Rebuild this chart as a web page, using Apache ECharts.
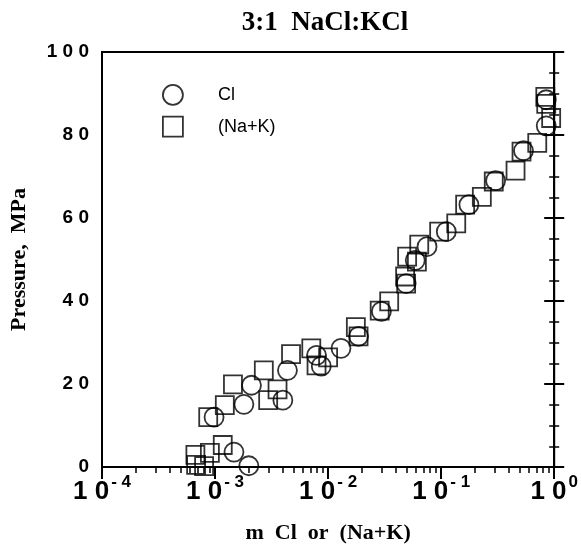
<!DOCTYPE html>
<html>
<head>
<meta charset="utf-8">
<script src="https://cdn.jsdelivr.net/npm/echarts@6/dist/echarts.min.js"></script>
<style>
html,body{margin:0;padding:0;background:#fff;}
#c{width:581px;height:549px;}
</style>
</head>
<body>
<div id="c"></div>
<script>
// ---- data ----
var clX = [1.47e-3, 1.99e-3, 9.8e-4, 1.8e-3, 2.1e-3, 3.98e-3, 4.37e-3, 7.9e-3, 8.7e-3, 1.3e-2, 1.86e-2, 2.96e-2, 4.9e-2, 5.9e-2, 7.5e-2, 0.111, 0.176, 0.303, 0.535, 0.85, 0.85];
var clP = [3.6, 0.3, 12.0, 15.1, 19.7, 16.1, 23.3, 26.9, 24.3, 28.6, 31.5, 37.5, 44.2, 49.8, 53.1, 56.7, 63.2, 69.0, 76.2, 82.2, 88.5];

var nakX = [6.8e-4, 8.0e-4, 6.7e-4, 9.0e-4, 1.17e-3, 8.7e-4, 1.22e-3, 1.44e-3, 2.7e-3, 2.95e-3, 3.57e-3, 4.7e-3, 7.1e-3, 7.9e-3, 1.0e-2, 1.76e-2, 1.86e-2, 2.86e-2, 3.47e-2, 4.8e-2, 4.9e-2, 5.0e-2, 6.1e-2, 6.4e-2, 9.6e-2, 0.136, 0.163, 0.229, 0.292, 0.455, 0.514, 0.708, 0.94, 0.834, 0.85];
var nakP = [0.5, 0.2, 2.9, 3.4, 5.3, 12.0, 14.9, 19.9, 23.3, 16.1, 18.7, 27.2, 28.6, 24.5, 26.4, 33.7, 31.5, 37.7, 39.9, 45.9, 44.2, 50.7, 49.5, 53.6, 56.7, 58.7, 63.2, 65.1, 68.8, 71.4, 76.0, 78.1, 84.1, 89.2, 87.5];

var yTickLabels = {0: '0', 20: '2 0', 40: '4 0', 60: '6 0', 80: '8 0', 100: '1 0 0'};
var seriesNames = ['Cl', '(Na+K)'];
var titleText = '3:1  NaCl:KCl';
var xName = 'm  Cl  or  (Na+K)';
var yName = 'Pressure,  MPa';

// minor tick positions (log10 space) for the overlay axis
var minorLog = [];
for (var d = -4; d < 0; d++) {
  for (var k = 2; k <= 9; k++) minorLog.push(d + Math.log10(k));
}

function pairs(xs, ys) { return xs.map(function (x, i) { return [x, ys[i]]; }); }

var serif = "'Liberation Serif', 'Times New Roman', serif";
var sans = "'Liberation Sans', Arial, sans-serif";

var chart = echarts.init(document.getElementById('c'), null, {renderer: 'canvas'});
chart.setOption({
  animation: false,
  backgroundColor: '#fff',
  title: {
    text: titleText, left: 320, top: 5, textAlign: 'center',
    textStyle: {fontFamily: serif, fontWeight: 'bold', fontSize: 27, color: '#000'}
  },
  legend: {
    orient: 'vertical', left: 157, top: 79, itemWidth: 20, itemHeight: 20, itemGap: 10,
    textStyle: {fontFamily: sans, fontSize: 18, color: '#000', padding: [0, 0, 0, 30]},
    data: [
      {name: seriesNames[0], icon: 'circle', itemStyle: {color: 'transparent', borderColor: '#000', borderWidth: 1.8}},
      {name: seriesNames[1], icon: 'rect', itemStyle: {color: 'transparent', borderColor: '#000', borderWidth: 1.8}}
    ],
    selectedMode: false
  },
  grid: {left: 102, right: 23, top: 52, bottom: 81, show: true, borderColor: '#000', borderWidth: 2, backgroundColor: 'transparent'},
  xAxis: [
    {
      type: 'log', logBase: 10, min: 1e-4, max: 1, position: 'bottom',
      name: xName, nameLocation: 'middle', nameGap: 55,
      nameTextStyle: {fontFamily: serif, fontWeight: 'bold', fontSize: 22, color: '#000'},
      axisLine: {show: true, lineStyle: {color: '#000', width: 2}},
      axisTick: {show: true, inside: false, length: 12, lineStyle: {color: '#000', width: 2}},
      splitLine: {show: false},
      axisLabel: {
        margin: 7, color: '#000',
        formatter: function (v) {
          var e = Math.round(Math.log10(v));
          return '{b|1 0}{s|' + (e === 0 ? '0' : '- ' + (-e)) + '}';
        },
        rich: {
          b: {fontFamily: sans, fontWeight: 'bold', fontSize: 26, color: '#000', verticalAlign: 'bottom', padding: [5, 0, 0, 0]},
          s: {fontFamily: sans, fontWeight: 'bold', fontSize: 17, color: '#000', verticalAlign: 'top', padding: [0, 0, 0, 2]}
        }
      }
    },
    {
      type: 'value', min: -4, max: 0, position: 'bottom', gridIndex: 0,
      axisLine: {show: false},
      axisTick: {show: true, inside: false, length: 6, customValues: minorLog, lineStyle: {color: '#000', width: 1.5}},
      axisLabel: {show: false},
      splitLine: {show: false}
    }
  ],
  yAxis: [
    {
      type: 'value', min: 0, max: 100, interval: 20, position: 'left',
      name: yName, nameLocation: 'middle', nameGap: 72, nameRotate: 90,
      nameTextStyle: {fontFamily: serif, fontWeight: 'bold', fontSize: 22, color: '#000'},
      axisLine: {show: true, lineStyle: {color: '#000', width: 2}},
      axisTick: {show: true, inside: false, length: 10, lineStyle: {color: '#000', width: 2}},
      minorTick: {show: true, splitNumber: 4, length: 5, lineStyle: {color: '#000', width: 1.5}},
      splitLine: {show: false},
      axisLabel: {
        margin: 13, color: '#000', fontFamily: sans, fontWeight: 'bold', fontSize: 19,
        formatter: function (v) { return yTickLabels[v]; }
      }
    },
    {
      type: 'value', min: 0, max: 100, interval: 20, position: 'right',
      axisLine: {show: true, lineStyle: {color: '#000', width: 2}},
      axisTick: {show: true, inside: false, length: 10, lineStyle: {color: '#000', width: 2}},
      minorTick: {show: true, splitNumber: 4, length: 5, lineStyle: {color: '#000', width: 1.5}},
      splitLine: {show: false},
      axisLabel: {show: false}
    }
  ],
  series: [
    {
      name: seriesNames[0], type: 'scatter', xAxisIndex: 0, yAxisIndex: 0,
      symbol: 'circle', symbolSize: 19,
      itemStyle: {color: 'transparent', borderColor: '#000', borderWidth: 1.8},
      data: pairs(clX, clP)
    },
    {
      name: seriesNames[1], type: 'scatter', xAxisIndex: 0, yAxisIndex: 0,
      symbol: 'rect', symbolSize: 18,
      itemStyle: {color: 'transparent', borderColor: '#000', borderWidth: 1.8},
      data: pairs(nakX, nakP)
    }
  ]
});
</script>
</body>
</html>
